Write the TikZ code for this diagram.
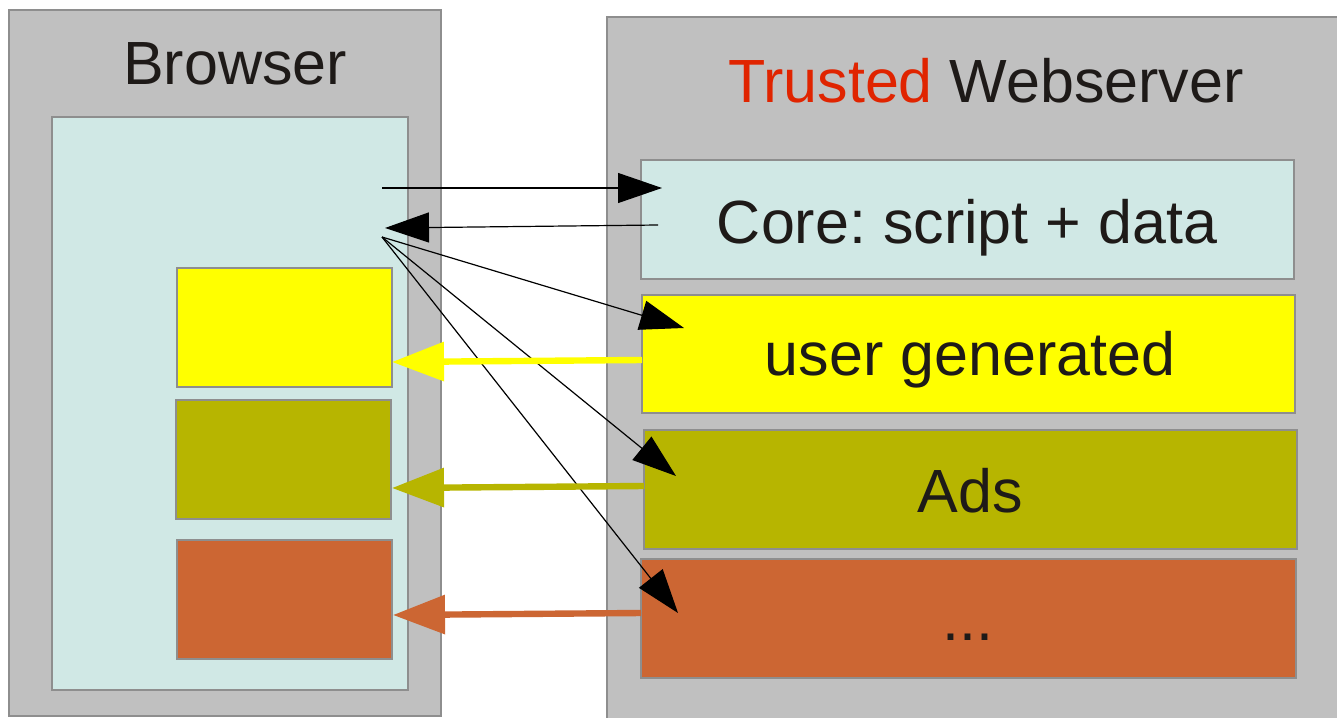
\documentclass[tikz,border=0pt]{standalone}
\usepackage{fontspec}
\setmainfont{Liberation Sans}
\usetikzlibrary{arrows.meta}
\frenchspacing

\definecolor{panelgray}{HTML}{C0C0C0}
\definecolor{edgegray}{HTML}{8E8E8E}
\definecolor{paneblue}{HTML}{D0E8E5}
\definecolor{ugyellow}{HTML}{FFFF00}
\definecolor{adolive}{HTML}{B7B500}
\definecolor{etcorange}{HTML}{CC6633}
\definecolor{trustred}{HTML}{E02400}
\definecolor{inkblack}{HTML}{1E1A18}

\begin{document}
\begin{tikzpicture}[x=0.5pt,y=-0.5pt,
  box/.style={draw=edgegray, line width=0.7pt},
  caption/.style={font=\fontsize{30.5}{36}\selectfont, text=inkblack, anchor=base, inner sep=0pt},
  req/.style={draw=black, line width=0.6pt, -{Triangle[length=22pt,width=15pt]}},
  resp/.style={line width=3.2pt, -{Triangle[length=26pt,width=19pt]}}]

\useasboundingbox (0,0) rectangle (1337,717);

% browser side
\draw[box, fill=panelgray] (9,10) rectangle (441,716);
\draw[box, fill=paneblue] (52,117) rectangle (408,690);
\draw[box, fill=ugyellow] (177,268) rectangle (392,387);
\draw[box, fill=adolive] (176,400) rectangle (391,519);
\draw[box, fill=etcorange] (177,540) rectangle (392,659);
\node[caption] (browser) at (235,85) {Browser};

% server side
\draw[box, fill=panelgray] (607,17) rectangle (1360,740);
\draw[box, fill=paneblue] (641,160) rectangle (1294,279);
\draw[box, fill=ugyellow] (642,295) rectangle (1295,413);
\draw[box, fill=adolive] (644,430) rectangle (1297,549);
\draw[box, fill=etcorange] (641,559) rectangle (1296,678);
\node[caption] (server) at (986,103) {\textcolor{trustred}{Trusted} Webserver};
\node[caption] (core) at (967,243) {Core: script + data};
\node[caption] (user) at (970,375) {user generated};
\node[caption] (ads) at (970,512) {Ads};
\node[caption] (etc) at (968,640) {...};

% connector end points
\coordinate (reqA) at (382,188);
\coordinate (coreIn) at (662,188);
\coordinate (coreOut) at (658,225);
\coordinate (paneIn) at (385,228);
\coordinate (fan) at (382,237);
\coordinate (ugTip) at (684,328);
\coordinate (adTip) at (676,476);
\coordinate (etcTip) at (678,613);
\coordinate (ugOut) at (642,360);
\coordinate (ugIn) at (392,362);
\coordinate (adOut) at (644,486);
\coordinate (adIn) at (392,488);
\coordinate (etcOut) at (641,613);
\coordinate (etcIn) at (393,615);

% requests from the page
\draw[req] (reqA) -- (coreIn);
\draw[req] (coreOut) -- (paneIn);
\draw[req] (fan) -- (ugTip);
\draw[req] (fan) -- (adTip);
\draw[req] (fan) -- (etcTip);

% content delivered back
\draw[resp, draw=ugyellow, fill=ugyellow] (ugOut) -- (ugIn);
\draw[resp, draw=adolive, fill=adolive] (adOut) -- (adIn);
\draw[resp, draw=etcorange, fill=etcorange] (etcOut) -- (etcIn);
\end{tikzpicture}
\end{document}
